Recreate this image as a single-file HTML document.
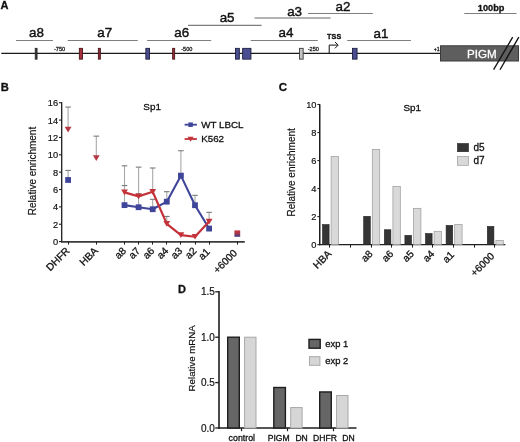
<!DOCTYPE html>
<html><head><meta charset="utf-8"><style>
html,body{margin:0;padding:0;background:#fff;}
svg{display:block;font-family:"Liberation Sans", sans-serif;will-change:transform;}
</style></head><body>
<svg width="520" height="442" viewBox="0 0 520 442">
<rect width="520" height="442" fill="#fff"/>
<text x="0.6" y="8.95" font-size="11" text-anchor="start" font-weight="bold" fill="#111" stroke="#111" stroke-width="0.3" >A</text>
<line x1="1.3" y1="53.35" x2="440" y2="53.35" stroke="#1a1a1a" stroke-width="1.25" />
<rect x="35.25" y="48.35" width="1.8" height="10.8" fill="#383838" stroke="#2a2a2a" stroke-width="0.9" />
<rect x="79.35" y="48.35" width="3.1" height="10.8" fill="#a3303c" stroke="#4a1518" stroke-width="0.9" />
<rect x="98.35" y="48.35" width="2" height="10.8" fill="#8e2c38" stroke="#4a1518" stroke-width="0.9" />
<rect x="145.85" y="48.35" width="3.7" height="10.8" fill="#4a4d8f" stroke="#1f1f40" stroke-width="0.9" />
<rect x="172.65" y="48.35" width="2" height="10.8" fill="#9a2e3a" stroke="#4a1518" stroke-width="0.9" />
<rect x="235.45" y="48.35" width="3.9" height="10.8" fill="#4a4d8f" stroke="#1f1f40" stroke-width="0.9" />
<rect x="242.65" y="48.35" width="8.3" height="10.8" fill="#4a4d8f" stroke="#1f1f40" stroke-width="0.9" />
<rect x="299.55" y="48.35" width="3.6" height="10.8" fill="#c4c4c4" stroke="#3a3a3a" stroke-width="0.9" />
<rect x="352.45" y="48.35" width="4.6" height="10.8" fill="#4a4d8f" stroke="#1f1f40" stroke-width="0.9" />
<line x1="16" y1="40.5" x2="52.9" y2="40.5" stroke="#7e7e7e" stroke-width="1.1" />
<line x1="67.7" y1="40.5" x2="137.8" y2="40.5" stroke="#7e7e7e" stroke-width="1.1" />
<line x1="147.1" y1="40.5" x2="211.2" y2="40.5" stroke="#7e7e7e" stroke-width="1.1" />
<line x1="188" y1="25.4" x2="261.6" y2="25.4" stroke="#7e7e7e" stroke-width="1.1" />
<line x1="250.7" y1="40.5" x2="317.8" y2="40.5" stroke="#7e7e7e" stroke-width="1.1" />
<line x1="254.5" y1="17.9" x2="330.6" y2="17.9" stroke="#9a9a9a" stroke-width="1.5" />
<line x1="308" y1="13.5" x2="372.9" y2="13.5" stroke="#7e7e7e" stroke-width="1.1" />
<line x1="347.2" y1="40.5" x2="410.9" y2="40.5" stroke="#7e7e7e" stroke-width="1.1" />
<line x1="464.3" y1="13.5" x2="516.5" y2="13.5" stroke="#7e7e7e" stroke-width="1.1" />
<text x="36.5" y="37.1" font-size="13.4" text-anchor="middle" font-weight="normal" fill="#111" stroke="#111" stroke-width="0.42" >a8</text>
<text x="104.7" y="37.1" font-size="13.4" text-anchor="middle" font-weight="normal" fill="#111" stroke="#111" stroke-width="0.42" >a7</text>
<text x="181.8" y="37.1" font-size="13.4" text-anchor="middle" font-weight="normal" fill="#111" stroke="#111" stroke-width="0.42" >a6</text>
<text x="227.1" y="22.2" font-size="13.4" text-anchor="middle" font-weight="normal" fill="#111" stroke="#111" stroke-width="0.42" >a5</text>
<text x="286" y="37.1" font-size="13.4" text-anchor="middle" font-weight="normal" fill="#111" stroke="#111" stroke-width="0.42" >a4</text>
<text x="294.6" y="15.6" font-size="13.4" text-anchor="middle" font-weight="normal" fill="#111" stroke="#111" stroke-width="0.42" >a3</text>
<text x="343" y="11.1" font-size="13.4" text-anchor="middle" font-weight="normal" fill="#111" stroke="#111" stroke-width="0.42" >a2</text>
<text x="380.9" y="38.2" font-size="13.4" text-anchor="middle" font-weight="normal" fill="#111" stroke="#111" stroke-width="0.42" >a1</text>
<text x="54" y="51.2" font-size="5.6" text-anchor="start" font-weight="normal" fill="#222" stroke="#222" stroke-width="0.3" >-750</text>
<text x="181.2" y="51.3" font-size="5.6" text-anchor="start" font-weight="normal" fill="#222" stroke="#222" stroke-width="0.3" >-500</text>
<text x="307.7" y="51.3" font-size="5.6" text-anchor="start" font-weight="normal" fill="#222" stroke="#222" stroke-width="0.3" >-250</text>
<text x="433.8" y="50.6" font-size="5.2" text-anchor="start" font-weight="normal" fill="#222" stroke="#222" stroke-width="0.3" >+1</text>
<text x="327" y="38.6" font-size="7.2" text-anchor="start" font-weight="bold" fill="#111" stroke="#111" stroke-width="0.3" letter-spacing="0.15">TSS</text>
<path d="M329.2 53.3 V45.1 H337.6" fill="none" stroke="#111" stroke-width="1"/>
<path d="M335 42 L338.2 45.1 L335 48.3" fill="none" stroke="#111" stroke-width="1"/>
<text x="491.1" y="10.8" font-size="9.2" text-anchor="middle" font-weight="bold" fill="#111" stroke="#111" stroke-width="0.3" >100bp</text>
<rect x="440.5" y="45.8" width="78" height="15.2" fill="#5e5e5e" stroke="#3a3a3a" stroke-width="1" />
<text x="481.8" y="58" font-size="11.6" text-anchor="middle" font-weight="normal" fill="#ffffff" stroke="#ffffff" stroke-width="0.3" >PIGM</text>
<line x1="512.7" y1="37.1" x2="493.6" y2="69.7" stroke="#111" stroke-width="1.3" />
<line x1="518.8" y1="37.1" x2="500" y2="69.7" stroke="#111" stroke-width="1.3" />
<text x="0.7" y="90.8" font-size="11.2" text-anchor="start" font-weight="bold" fill="#111" stroke="#111" stroke-width="0.3" >B</text>
<line x1="61.7" y1="102.3" x2="61.7" y2="242.2" stroke="#1e1e1e" stroke-width="1.3" />
<line x1="61.1" y1="241.85" x2="244.8" y2="241.85" stroke="#3a3a3a" stroke-width="1.8" />
<line x1="59" y1="241.6" x2="61.7" y2="241.6" stroke="#1e1e1e" stroke-width="1.1" />
<text transform="translate(58.2,245.2) scale(0.95,1)" font-size="9.8" text-anchor="end" font-weight="normal" fill="#111" stroke="#111" stroke-width="0.18" >0</text>
<line x1="59" y1="224.24" x2="61.7" y2="224.24" stroke="#1e1e1e" stroke-width="1.1" />
<text transform="translate(58.2,227.84) scale(0.95,1)" font-size="9.8" text-anchor="end" font-weight="normal" fill="#111" stroke="#111" stroke-width="0.18" >2</text>
<line x1="59" y1="206.88" x2="61.7" y2="206.88" stroke="#1e1e1e" stroke-width="1.1" />
<text transform="translate(58.2,210.48) scale(0.95,1)" font-size="9.8" text-anchor="end" font-weight="normal" fill="#111" stroke="#111" stroke-width="0.18" >4</text>
<line x1="59" y1="189.52" x2="61.7" y2="189.52" stroke="#1e1e1e" stroke-width="1.1" />
<text transform="translate(58.2,193.12) scale(0.95,1)" font-size="9.8" text-anchor="end" font-weight="normal" fill="#111" stroke="#111" stroke-width="0.18" >6</text>
<line x1="59" y1="172.16" x2="61.7" y2="172.16" stroke="#1e1e1e" stroke-width="1.1" />
<text transform="translate(58.2,175.76) scale(0.95,1)" font-size="9.8" text-anchor="end" font-weight="normal" fill="#111" stroke="#111" stroke-width="0.18" >8</text>
<line x1="59" y1="154.8" x2="61.7" y2="154.8" stroke="#1e1e1e" stroke-width="1.1" />
<text transform="translate(58.2,158.4) scale(0.95,1)" font-size="9.8" text-anchor="end" font-weight="normal" fill="#111" stroke="#111" stroke-width="0.18" >10</text>
<line x1="59" y1="137.44" x2="61.7" y2="137.44" stroke="#1e1e1e" stroke-width="1.1" />
<text transform="translate(58.2,141.04) scale(0.95,1)" font-size="9.8" text-anchor="end" font-weight="normal" fill="#111" stroke="#111" stroke-width="0.18" >12</text>
<line x1="59" y1="120.08" x2="61.7" y2="120.08" stroke="#1e1e1e" stroke-width="1.1" />
<text transform="translate(58.2,123.68) scale(0.95,1)" font-size="9.8" text-anchor="end" font-weight="normal" fill="#111" stroke="#111" stroke-width="0.18" >14</text>
<line x1="59" y1="102.72" x2="61.7" y2="102.72" stroke="#1e1e1e" stroke-width="1.1" />
<text transform="translate(58.2,106.32) scale(0.95,1)" font-size="9.8" text-anchor="end" font-weight="normal" fill="#111" stroke="#111" stroke-width="0.18" >16</text>
<line x1="68.5" y1="241.6" x2="68.5" y2="244.6" stroke="#1e1e1e" stroke-width="1.0" />
<line x1="96.5" y1="241.6" x2="96.5" y2="244.6" stroke="#1e1e1e" stroke-width="1.0" />
<line x1="124.5" y1="241.6" x2="124.5" y2="244.6" stroke="#1e1e1e" stroke-width="1.0" />
<line x1="138.5" y1="241.6" x2="138.5" y2="244.6" stroke="#1e1e1e" stroke-width="1.0" />
<line x1="152.5" y1="241.6" x2="152.5" y2="244.6" stroke="#1e1e1e" stroke-width="1.0" />
<line x1="166.5" y1="241.6" x2="166.5" y2="244.6" stroke="#1e1e1e" stroke-width="1.0" />
<line x1="180.5" y1="241.6" x2="180.5" y2="244.6" stroke="#1e1e1e" stroke-width="1.0" />
<line x1="195.5" y1="241.6" x2="195.5" y2="244.6" stroke="#1e1e1e" stroke-width="1.0" />
<line x1="209.5" y1="241.6" x2="209.5" y2="244.6" stroke="#1e1e1e" stroke-width="1.0" />
<line x1="237.5" y1="241.6" x2="237.5" y2="244.6" stroke="#1e1e1e" stroke-width="1.0" />
<text x="152.15" y="109.9" font-size="9.9" text-anchor="middle" font-weight="normal" fill="#111" stroke="#111" stroke-width="0.3" >Sp1</text>
<text transform="translate(35.6,171) rotate(-90)" font-size="10" text-anchor="middle" fill="#111" stroke="#111" stroke-width="0.18">Relative enrichment</text>
<text transform="translate(70.3,251.5) rotate(-45)" font-size="10.2" text-anchor="end" fill="#111" stroke="#111" stroke-width="0.3">DHFR</text>
<text transform="translate(98.5,251.5) rotate(-45)" font-size="10.2" text-anchor="end" fill="#111" stroke="#111" stroke-width="0.3">HBA</text>
<text transform="translate(126.7,251.5) rotate(-45)" font-size="10.2" text-anchor="end" fill="#111" stroke="#111" stroke-width="0.3">a8</text>
<text transform="translate(140.8,251.5) rotate(-45)" font-size="10.2" text-anchor="end" fill="#111" stroke="#111" stroke-width="0.3">a7</text>
<text transform="translate(154.9,251.5) rotate(-45)" font-size="10.2" text-anchor="end" fill="#111" stroke="#111" stroke-width="0.3">a6</text>
<text transform="translate(169,251.5) rotate(-45)" font-size="10.2" text-anchor="end" fill="#111" stroke="#111" stroke-width="0.3">a4</text>
<text transform="translate(183.1,251.5) rotate(-45)" font-size="10.2" text-anchor="end" fill="#111" stroke="#111" stroke-width="0.3">a3</text>
<text transform="translate(197.2,251.5) rotate(-45)" font-size="10.2" text-anchor="end" fill="#111" stroke="#111" stroke-width="0.3">a2</text>
<text transform="translate(210.4,252.4) rotate(-45)" font-size="10.2" text-anchor="end" fill="#111" stroke="#111" stroke-width="0.3">a1</text>
<text transform="translate(237.7,253.7) rotate(-45)" font-size="10.2" text-anchor="end" fill="#111" stroke="#111" stroke-width="0.3">+6000</text>
<line x1="68.1" y1="128.76" x2="68.1" y2="107.06" stroke="#a8a8a8" stroke-width="1.1" />
<line x1="65.3" y1="107.06" x2="70.9" y2="107.06" stroke="#7a7a7a" stroke-width="1.1" />
<line x1="96.3" y1="157.4" x2="96.3" y2="136.14" stroke="#a8a8a8" stroke-width="1.1" />
<line x1="93.5" y1="136.14" x2="99.1" y2="136.14" stroke="#7a7a7a" stroke-width="1.1" />
<line x1="124.5" y1="191.52" x2="124.5" y2="165.82" stroke="#a8a8a8" stroke-width="1.1" />
<line x1="121.7" y1="165.82" x2="127.3" y2="165.82" stroke="#7a7a7a" stroke-width="1.1" />
<line x1="138.6" y1="195.6" x2="138.6" y2="167.13" stroke="#a8a8a8" stroke-width="1.1" />
<line x1="135.8" y1="167.13" x2="141.4" y2="167.13" stroke="#7a7a7a" stroke-width="1.1" />
<line x1="152.7" y1="191" x2="152.7" y2="167.99" stroke="#a8a8a8" stroke-width="1.1" />
<line x1="149.9" y1="167.99" x2="155.5" y2="167.99" stroke="#7a7a7a" stroke-width="1.1" />
<line x1="166.8" y1="223.02" x2="166.8" y2="216.43" stroke="#a8a8a8" stroke-width="1.1" />
<line x1="164" y1="216.43" x2="169.6" y2="216.43" stroke="#7a7a7a" stroke-width="1.1" />
<line x1="209.1" y1="220.77" x2="209.1" y2="212.35" stroke="#a8a8a8" stroke-width="1.1" />
<line x1="206.3" y1="212.35" x2="211.9" y2="212.35" stroke="#7a7a7a" stroke-width="1.1" />
<line x1="68.1" y1="179.97" x2="68.1" y2="170.42" stroke="#a8a8a8" stroke-width="1.1" />
<line x1="65.3" y1="170.42" x2="70.9" y2="170.42" stroke="#7a7a7a" stroke-width="1.1" />
<line x1="124.5" y1="205.14" x2="124.5" y2="185.53" stroke="#a8a8a8" stroke-width="1.1" />
<line x1="121.7" y1="185.53" x2="127.3" y2="185.53" stroke="#7a7a7a" stroke-width="1.1" />
<line x1="138.6" y1="207.23" x2="138.6" y2="193.86" stroke="#a8a8a8" stroke-width="1.1" />
<line x1="135.8" y1="193.86" x2="141.4" y2="193.86" stroke="#7a7a7a" stroke-width="1.1" />
<line x1="152.7" y1="209.22" x2="152.7" y2="199.33" stroke="#a8a8a8" stroke-width="1.1" />
<line x1="149.9" y1="199.33" x2="155.5" y2="199.33" stroke="#7a7a7a" stroke-width="1.1" />
<line x1="166.8" y1="201.67" x2="166.8" y2="191.69" stroke="#a8a8a8" stroke-width="1.1" />
<line x1="164" y1="191.69" x2="169.6" y2="191.69" stroke="#7a7a7a" stroke-width="1.1" />
<line x1="180.9" y1="175.63" x2="180.9" y2="150.72" stroke="#a8a8a8" stroke-width="1.1" />
<line x1="178.1" y1="150.72" x2="183.7" y2="150.72" stroke="#7a7a7a" stroke-width="1.1" />
<line x1="195" y1="205.23" x2="195" y2="195.34" stroke="#a8a8a8" stroke-width="1.1" />
<line x1="192.2" y1="195.34" x2="197.8" y2="195.34" stroke="#7a7a7a" stroke-width="1.1" />
<polyline points="124.5,205.14 138.6,207.23 152.7,209.22 166.8,201.67 180.9,175.63 195,205.23 209.1,228.58" fill="none" stroke="#3f4699" stroke-width="2.1" stroke-linejoin="round"/>
<polyline points="124.5,192.32 138.6,196.4 152.7,191.8 166.8,223.82 180.9,235.2 195,236.76 209.1,221.57" fill="none" stroke="#c4323a" stroke-width="2.2" stroke-linejoin="round"/>
<rect x="65.2" y="177.07" width="5.8" height="5.8" fill="#3f4699" stroke="none" stroke-width="0" />
<rect x="121.6" y="202.24" width="5.8" height="5.8" fill="#3f4699" stroke="none" stroke-width="0" />
<rect x="135.7" y="204.33" width="5.8" height="5.8" fill="#3f4699" stroke="none" stroke-width="0" />
<rect x="149.8" y="206.32" width="5.8" height="5.8" fill="#3f4699" stroke="none" stroke-width="0" />
<rect x="163.9" y="198.77" width="5.8" height="5.8" fill="#3f4699" stroke="none" stroke-width="0" />
<rect x="178" y="172.73" width="5.8" height="5.8" fill="#3f4699" stroke="none" stroke-width="0" />
<rect x="192.1" y="202.33" width="5.8" height="5.8" fill="#3f4699" stroke="none" stroke-width="0" />
<rect x="206.2" y="225.68" width="5.8" height="5.8" fill="#3f4699" stroke="none" stroke-width="0" />
<path d="M64.7 126.7 L71.5 126.7 L68.1 132.42 Z" fill="#b33843"/>
<path d="M92.9 155.35 L99.7 155.35 L96.3 161.06 Z" fill="#b33843"/>
<path d="M121.1 189.46 L127.9 189.46 L124.5 195.17 Z" fill="#c4323a"/>
<path d="M135.2 193.54 L142 193.54 L138.6 199.25 Z" fill="#c4323a"/>
<path d="M149.3 188.94 L156.1 188.94 L152.7 194.65 Z" fill="#c4323a"/>
<path d="M163.4 220.97 L170.2 220.97 L166.8 226.68 Z" fill="#c4323a"/>
<path d="M177.5 232.34 L184.3 232.34 L180.9 238.05 Z" fill="#c4323a"/>
<path d="M191.6 233.9 L198.4 233.9 L195 239.61 Z" fill="#c4323a"/>
<path d="M205.7 218.71 L212.5 218.71 L209.1 224.42 Z" fill="#c4323a"/>
<defs><linearGradient id="rb" x1="0" y1="0" x2="0" y2="1"><stop offset="0" stop-color="#c8343e"/><stop offset="0.45" stop-color="#a83848"/><stop offset="1" stop-color="#3a3f8a"/></linearGradient></defs>
<rect x="234.4" y="230.4" width="5.8" height="6.4" fill="url(#rb)" stroke="none" stroke-width="0" />
<line x1="184.6" y1="124.7" x2="196.9" y2="124.7" stroke="#3f4699" stroke-width="1.8" />
<rect x="188.35" y="122.45" width="4.5" height="4.5" fill="#3f4699" stroke="none" stroke-width="0" />
<text x="201.2" y="127.7" font-size="9.8" text-anchor="start" font-weight="normal" fill="#111" stroke="#111" stroke-width="0.3" >WT LBCL</text>
<line x1="184.6" y1="139" x2="196.9" y2="139" stroke="#c4323a" stroke-width="1.8" />
<path d="M187.6 136.78 L193.6 136.78 L190.6 141.82 Z" fill="#c4323a"/>
<text x="201.2" y="141.5" font-size="9.8" text-anchor="start" font-weight="normal" fill="#111" stroke="#111" stroke-width="0.3" >K562</text>
<text x="278.7" y="91.1" font-size="11.5" text-anchor="start" font-weight="bold" fill="#111" stroke="#111" stroke-width="0.3" >C</text>
<line x1="319.75" y1="104.2" x2="319.75" y2="245.2" stroke="#1e1e1e" stroke-width="1.5" />
<line x1="319.4" y1="244.6" x2="505.4" y2="244.6" stroke="#1e1e1e" stroke-width="1.3" />
<line x1="317.4" y1="244.6" x2="320" y2="244.6" stroke="#1e1e1e" stroke-width="1.1" />
<text transform="translate(316.5,248.2) scale(0.95,1)" font-size="9.8" text-anchor="end" font-weight="normal" fill="#111" stroke="#111" stroke-width="0.18" >0</text>
<line x1="317.4" y1="216.58" x2="320" y2="216.58" stroke="#1e1e1e" stroke-width="1.1" />
<text transform="translate(316.5,220.18) scale(0.95,1)" font-size="9.8" text-anchor="end" font-weight="normal" fill="#111" stroke="#111" stroke-width="0.18" >2</text>
<line x1="317.4" y1="188.56" x2="320" y2="188.56" stroke="#1e1e1e" stroke-width="1.1" />
<text transform="translate(316.5,192.16) scale(0.95,1)" font-size="9.8" text-anchor="end" font-weight="normal" fill="#111" stroke="#111" stroke-width="0.18" >4</text>
<line x1="317.4" y1="160.54" x2="320" y2="160.54" stroke="#1e1e1e" stroke-width="1.1" />
<text transform="translate(316.5,164.14) scale(0.95,1)" font-size="9.8" text-anchor="end" font-weight="normal" fill="#111" stroke="#111" stroke-width="0.18" >6</text>
<line x1="317.4" y1="132.52" x2="320" y2="132.52" stroke="#1e1e1e" stroke-width="1.1" />
<text transform="translate(316.5,136.12) scale(0.95,1)" font-size="9.8" text-anchor="end" font-weight="normal" fill="#111" stroke="#111" stroke-width="0.18" >8</text>
<line x1="317.4" y1="104.5" x2="320" y2="104.5" stroke="#1e1e1e" stroke-width="1.1" />
<text transform="translate(316.5,108.1) scale(0.95,1)" font-size="9.8" text-anchor="end" font-weight="normal" fill="#111" stroke="#111" stroke-width="0.18" >10</text>
<line x1="329.5" y1="244.6" x2="329.5" y2="247.6" stroke="#1e1e1e" stroke-width="1.0" />
<line x1="350.5" y1="244.6" x2="350.5" y2="247.6" stroke="#1e1e1e" stroke-width="1.0" />
<line x1="371.5" y1="244.6" x2="371.5" y2="247.6" stroke="#1e1e1e" stroke-width="1.0" />
<line x1="391.5" y1="244.6" x2="391.5" y2="247.6" stroke="#1e1e1e" stroke-width="1.0" />
<line x1="412.5" y1="244.6" x2="412.5" y2="247.6" stroke="#1e1e1e" stroke-width="1.0" />
<line x1="432.5" y1="244.6" x2="432.5" y2="247.6" stroke="#1e1e1e" stroke-width="1.0" />
<line x1="453.5" y1="244.6" x2="453.5" y2="247.6" stroke="#1e1e1e" stroke-width="1.0" />
<line x1="474.5" y1="244.6" x2="474.5" y2="247.6" stroke="#1e1e1e" stroke-width="1.0" />
<line x1="494.5" y1="244.6" x2="494.5" y2="247.6" stroke="#1e1e1e" stroke-width="1.0" />
<text x="412.2" y="110.6" font-size="9.9" text-anchor="middle" font-weight="normal" fill="#111" stroke="#111" stroke-width="0.3" >Sp1</text>
<text transform="translate(294.8,172.4) rotate(-90)" font-size="10" text-anchor="middle" fill="#111" stroke="#111" stroke-width="0.18">Relative enrichment</text>
<text transform="translate(332.1,254.5) rotate(-45)" font-size="10.2" text-anchor="end" fill="#111" stroke="#111" stroke-width="0.3">HBA</text>
<text transform="translate(373.3,254.5) rotate(-45)" font-size="10.2" text-anchor="end" fill="#111" stroke="#111" stroke-width="0.3">a8</text>
<text transform="translate(393.9,254.5) rotate(-45)" font-size="10.2" text-anchor="end" fill="#111" stroke="#111" stroke-width="0.3">a6</text>
<text transform="translate(414.5,254.5) rotate(-45)" font-size="10.2" text-anchor="end" fill="#111" stroke="#111" stroke-width="0.3">a5</text>
<text transform="translate(435.1,254.5) rotate(-45)" font-size="10.2" text-anchor="end" fill="#111" stroke="#111" stroke-width="0.3">a4</text>
<text transform="translate(454.8,255.4) rotate(-45)" font-size="10.2" text-anchor="end" fill="#111" stroke="#111" stroke-width="0.3">a1</text>
<text transform="translate(495.1,256.7) rotate(-45)" font-size="10.2" text-anchor="end" fill="#111" stroke="#111" stroke-width="0.3">+6000</text>
<rect x="322.5" y="224.57" width="6.6" height="20.03" fill="#353535" stroke="#222" stroke-width="0.6" />
<rect x="331.1" y="156.34" width="7.4" height="88.26" fill="#d9d9d9" stroke="#9a9a9a" stroke-width="0.7" />
<rect x="363.7" y="216.3" width="6.6" height="28.3" fill="#353535" stroke="#222" stroke-width="0.6" />
<rect x="372.3" y="149.47" width="7.4" height="95.13" fill="#d9d9d9" stroke="#9a9a9a" stroke-width="0.7" />
<rect x="384.3" y="229.75" width="6.6" height="14.85" fill="#353535" stroke="#222" stroke-width="0.6" />
<rect x="392.9" y="186.46" width="7.4" height="58.14" fill="#d9d9d9" stroke="#9a9a9a" stroke-width="0.7" />
<rect x="404.9" y="235.35" width="6.6" height="9.25" fill="#353535" stroke="#222" stroke-width="0.6" />
<rect x="413.5" y="208.31" width="7.4" height="36.29" fill="#d9d9d9" stroke="#9a9a9a" stroke-width="0.7" />
<rect x="425.5" y="233.53" width="6.6" height="11.07" fill="#353535" stroke="#222" stroke-width="0.6" />
<rect x="434.1" y="231.29" width="7.4" height="13.31" fill="#d9d9d9" stroke="#9a9a9a" stroke-width="0.7" />
<rect x="446.1" y="225.41" width="6.6" height="19.19" fill="#353535" stroke="#222" stroke-width="0.6" />
<rect x="454.7" y="224.43" width="7.4" height="20.17" fill="#d9d9d9" stroke="#9a9a9a" stroke-width="0.7" />
<rect x="487.3" y="226.39" width="6.6" height="18.21" fill="#353535" stroke="#222" stroke-width="0.6" />
<rect x="495.9" y="240.4" width="7.4" height="4.2" fill="#d9d9d9" stroke="#9a9a9a" stroke-width="0.7" />
<rect x="457.5" y="143.5" width="11" height="8.2" fill="#353535" stroke="#222" stroke-width="0.6" />
<rect x="457.5" y="156.5" width="11" height="8.8" fill="#d9d9d9" stroke="#9a9a9a" stroke-width="0.7" />
<text x="473.4" y="150.8" font-size="10" text-anchor="start" font-weight="normal" fill="#111" stroke="#111" stroke-width="0.3" >d5</text>
<text x="473.4" y="163.9" font-size="10" text-anchor="start" font-weight="normal" fill="#111" stroke="#111" stroke-width="0.3" >d7</text>
<text x="177.9" y="293.2" font-size="11" text-anchor="start" font-weight="bold" fill="#111" stroke="#111" stroke-width="0.3" >D</text>
<line x1="219" y1="291" x2="219" y2="428.7" stroke="#1e1e1e" stroke-width="1.6" />
<line x1="218.3" y1="428" x2="356.5" y2="428" stroke="#1e1e1e" stroke-width="1.6" />
<line x1="215.2" y1="428" x2="219" y2="428" stroke="#1e1e1e" stroke-width="1.3" />
<text x="214.9" y="431.5" font-size="10.0" text-anchor="end" font-weight="normal" fill="#111" stroke="#111" stroke-width="0.18" >0.0</text>
<line x1="215.2" y1="382.6" x2="219" y2="382.6" stroke="#1e1e1e" stroke-width="1.3" />
<text x="214.9" y="386.1" font-size="10.0" text-anchor="end" font-weight="normal" fill="#111" stroke="#111" stroke-width="0.18" >0.5</text>
<line x1="215.2" y1="337.2" x2="219" y2="337.2" stroke="#1e1e1e" stroke-width="1.3" />
<text x="214.9" y="340.7" font-size="10.0" text-anchor="end" font-weight="normal" fill="#111" stroke="#111" stroke-width="0.18" >1.0</text>
<line x1="215.2" y1="291.8" x2="219" y2="291.8" stroke="#1e1e1e" stroke-width="1.3" />
<text x="214.9" y="295.3" font-size="10.0" text-anchor="end" font-weight="normal" fill="#111" stroke="#111" stroke-width="0.18" >1.5</text>
<line x1="241.5" y1="428" x2="241.5" y2="431.2" stroke="#1e1e1e" stroke-width="1.2" />
<line x1="287.5" y1="428" x2="287.5" y2="431.2" stroke="#1e1e1e" stroke-width="1.2" />
<line x1="333.5" y1="428" x2="333.5" y2="431.2" stroke="#1e1e1e" stroke-width="1.2" />
<text transform="translate(194.6,358.3) rotate(-90)" font-size="9.7" text-anchor="middle" fill="#111" stroke="#111" stroke-width="0.18">Relative mRNA</text>
<rect x="227.7" y="337.2" width="11.6" height="90.8" fill="#666666" stroke="#1e1e1e" stroke-width="1.4" />
<rect x="244.6" y="337.2" width="11.4" height="90.8" fill="#d6d6d6" stroke="#a8a8a8" stroke-width="1.0" />
<rect x="273.8" y="387.5" width="11.6" height="40.5" fill="#666666" stroke="#1e1e1e" stroke-width="1.4" />
<rect x="290.7" y="407.57" width="11.4" height="20.43" fill="#d6d6d6" stroke="#a8a8a8" stroke-width="1.0" />
<rect x="319.7" y="391.95" width="11.6" height="36.05" fill="#666666" stroke="#1e1e1e" stroke-width="1.4" />
<rect x="336.6" y="395.49" width="11.4" height="32.51" fill="#d6d6d6" stroke="#a8a8a8" stroke-width="1.0" />
<rect x="309" y="339.4" width="11.2" height="8.8" fill="#666666" stroke="#1e1e1e" stroke-width="1.4" />
<rect x="309.5" y="356.7" width="10.4" height="8.6" fill="#d6d6d6" stroke="#a8a8a8" stroke-width="1.0" />
<text x="325.3" y="347.3" font-size="9.4" text-anchor="start" font-weight="normal" fill="#111" stroke="#111" stroke-width="0.3" >exp 1</text>
<text x="325.3" y="363.7" font-size="9.4" text-anchor="start" font-weight="normal" fill="#111" stroke="#111" stroke-width="0.3" >exp 2</text>
<text x="241.8" y="440.8" font-size="8.8" text-anchor="middle" font-weight="normal" fill="#111" stroke="#111" stroke-width="0.3" >control</text>
<text x="267.7" y="440.8" font-size="8.6" text-anchor="start" font-weight="normal" fill="#111" stroke="#111" stroke-width="0.3" >PIGM</text>
<text x="295.4" y="440.8" font-size="8.6" text-anchor="start" font-weight="normal" fill="#111" stroke="#111" stroke-width="0.3" >DN</text>
<text x="313.1" y="440.8" font-size="8.6" text-anchor="start" font-weight="normal" fill="#111" stroke="#111" stroke-width="0.3" >DHFR</text>
<text x="342.3" y="440.8" font-size="8.6" text-anchor="start" font-weight="normal" fill="#111" stroke="#111" stroke-width="0.3" >DN</text>
</svg>
</body></html>
